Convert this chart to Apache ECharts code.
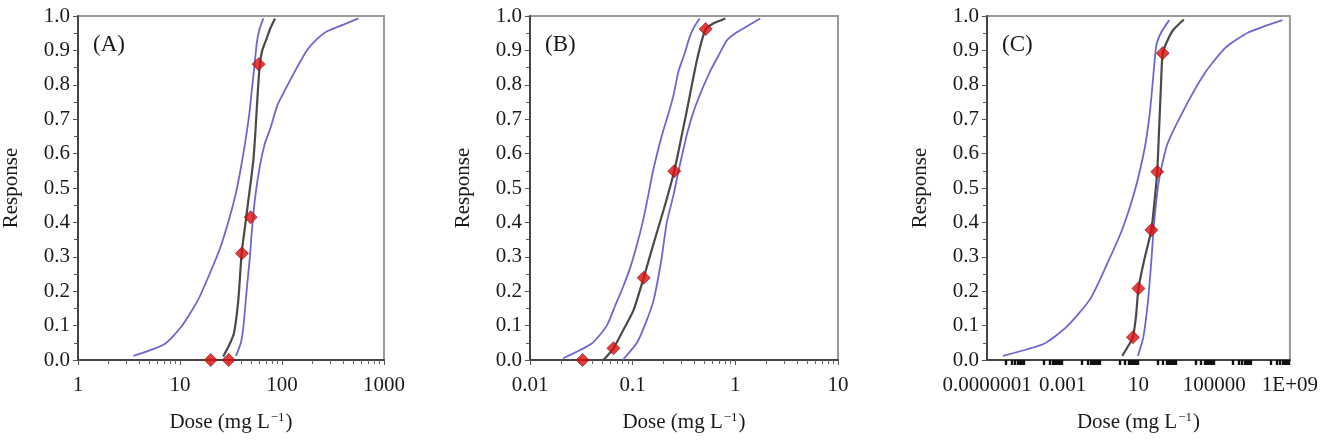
<!DOCTYPE html>
<html>
<head>
<meta charset="utf-8">
<script src="https://cdn.jsdelivr.net/npm/echarts@6/dist/echarts.min.js"></script>
<style>
  html, body { margin: 0; padding: 0; background: #fff; }
  #chart { width: 1321px; height: 442px; }
</style>
</head>
<body>
<div id="chart"></div>
<script>
// panel A (dose 1..1000)
const aObsDose = [20, 30, 40.5, 49.3, 59];
const aObsResp = [0, 0, 0.31, 0.415, 0.86];
const aFit = [[26.5,0.01],[30,0.04],[33.8,0.078],[37.3,0.174],[40.2,0.31],[43.5,0.39],[46.8,0.465],[49.5,0.52],[52.4,0.581],[54.5,0.65],[56.5,0.727],[58.5,0.8],[60.8,0.862],[64,0.9],[70.8,0.935],[77,0.965],[85.4,0.993]];
const aLow = [[3.5,0.012],[7,0.046],[10.2,0.095],[15,0.174],[19.5,0.25],[24.7,0.325],[30,0.405],[35,0.48],[38.5,0.54],[41.8,0.6],[45,0.66],[48,0.72],[50.4,0.78],[53.5,0.85],[56.5,0.92],[60,0.96],[65.6,0.993]];
const aHigh = [[35.4,0.012],[39.5,0.05],[41.8,0.096],[45.7,0.223],[48.5,0.3],[50.4,0.368],[54.4,0.47],[60.8,0.565],[68,0.63],[76.3,0.67],[90,0.74],[111,0.794],[140,0.85],[175,0.9],[215,0.93],[274,0.955],[400,0.975],[560,0.993]];
const aTicks = [1, 10, 100, 1000];

// panel B (dose 0.01..10)
const bObsDose = [0.0325, 0.065, 0.128, 0.254, 0.514];
const bObsResp = [0, 0.034, 0.239, 0.549, 0.962];
const bFit = [[0.052,0],[0.065,0.034],[0.081,0.087],[0.102,0.145],[0.128,0.239],[0.16,0.339],[0.2,0.436],[0.254,0.549],[0.29,0.63],[0.338,0.727],[0.423,0.872],[0.514,0.962],[0.615,0.979],[0.8,0.993]];
const bLow = [[0.021,0.005],[0.04,0.048],[0.056,0.1],[0.068,0.16],[0.08,0.21],[0.095,0.27],[0.11,0.335],[0.125,0.4],[0.14,0.47],[0.158,0.55],[0.18,0.62],[0.2,0.67],[0.225,0.72],[0.25,0.77],[0.28,0.84],[0.32,0.89],[0.36,0.94],[0.4,0.97],[0.45,0.993]];
const bHigh = [[0.08,0],[0.11,0.05],[0.135,0.11],[0.16,0.174],[0.19,0.29],[0.215,0.4],[0.25,0.48],[0.28,0.55],[0.34,0.66],[0.4,0.73],[0.48,0.79],[0.57,0.84],[0.7,0.89],[0.83,0.93],[1.0,0.95],[1.3,0.97],[1.75,0.993]];
const bTicks = [0.01, 0.1, 1, 10];

// panel C (dose 1e-7..1e9)
const cObsDose = [5.1, 10, 48, 98, 190];
const cObsResp = [0.066, 0.208, 0.378, 0.547, 0.892];
const cFit = [[1.4,0.012],[3.2,0.045],[5.1,0.066],[7.5,0.13],[10,0.208],[20,0.29],[48,0.378],[70,0.46],[98,0.547],[125,0.68],[155,0.8],[190,0.892],[350,0.93],[700,0.96],[2500,0.99]];
const cLow = [[7e-7,0.012],[1.1e-4,0.048],[1.8e-3,0.099],[0.028,0.177],[0.2,0.274],[1.4,0.38],[7,0.5],[22,0.62],[40,0.72],[59,0.817],[87,0.913],[158,0.952],[420,0.988]];
const cHigh = [[9.3,0.012],[18,0.066],[32,0.172],[48,0.289],[71,0.415],[129,0.531],[340,0.628],[3600,0.744],[3.8e4,0.84],[4e5,0.908],[6.3e6,0.952],[4e8,0.988]];
const cTicks = [1e-7, 1e-3, 10, 1e5, 1e9];

const FONT = '"Liberation Serif", "Times New Roman", serif';
const panels = [
  { label: '(A)', left: 78, width: 306, ticks: aTicks, minorDecades: [0, 1, 2], fit: aFit, low: aLow, high: aHigh, dose: aObsDose, resp: aObsResp },
  { label: '(B)', left: 530, width: 308, ticks: bTicks, minorDecades: [-2, -1, 0], fit: bFit, low: bLow, high: bHigh, dose: bObsDose, resp: bObsResp },
  { label: '(C)', left: 987, width: 312, ticks: cTicks, minorDecades: [-6, -4, -2, 0, 2, 4, 6, 8], fit: cFit, low: cLow, high: cHigh, dose: cObsDose, resp: cObsResp }
];

// 1, 0.001, 1E+09 style labels
function doseLabel(v) {
  const e = Math.round(Math.log10(v));
  if (e < 0) return '0.' + '0'.repeat(-e - 1) + '1';
  if (e >= 9) return '1E+' + (e < 10 ? '0' + e : e);
  return String(Math.pow(10, e));
}

// minor tick positions 2..9 (or 1..9) times each decade
function minorTicks(decades, withOne) {
  const out = [];
  decades.forEach(function (d) {
    for (let m = withOne ? 1 : 2; m <= 9; m++) out.push(m * Math.pow(10, d));
  });
  return out;
}

const option = {
  backgroundColor: '#fff',
  animation: false,
  textStyle: { fontFamily: FONT },
  title: [],
  grid: [],
  xAxis: [],
  yAxis: [],
  series: []
};

panels.forEach(function (p, i) {
  const lo = p.ticks[0], hi = p.ticks[p.ticks.length - 1];
  option.title.push({
    text: p.label, left: p.left + 15, top: 33, padding: 0,
    textStyle: { fontFamily: FONT, fontSize: 23, fontWeight: 'normal', color: '#1a1a1a' }
  });
  option.grid.push({
    left: p.left, width: p.width, top: 16, bottom: 82,
    show: true, borderColor: '#9a9a9a', borderWidth: 2
  });
  option.xAxis.push({
    type: 'log', gridIndex: i, min: lo, max: hi, logBase: 10,
    name: '{t|Dose (mg L}{s|−1}{t|)}',
    nameLocation: 'middle', nameGap: 51,
    nameTextStyle: {
      rich: {
        t: { fontFamily: FONT, fontSize: 21, color: '#1a1a1a' },
        s: { fontFamily: FONT, fontSize: 13, color: '#1a1a1a', verticalAlign: 'top', padding: [0, 1, 10, 1] }
      }
    },
    axisLine: { show: true, onZero: false, lineStyle: { color: '#444', width: 2 } },
    axisTick: { show: i < 2, length: 5, lineStyle: { color: '#555' }, customValues: p.ticks },
    axisLabel: { customValues: p.ticks, margin: 15, fontSize: 21, color: '#1a1a1a', formatter: doseLabel },
    splitLine: { show: false }
  });
  option.yAxis.push({
    type: 'value', gridIndex: i, min: 0, max: 1, interval: 0.1,
    name: 'Response', nameLocation: 'middle', nameGap: 56,
    nameTextStyle: { fontFamily: FONT, fontSize: 21, color: '#1a1a1a' },
    axisLine: { show: true, lineStyle: { color: '#444', width: 2 } },
    axisTick: { show: true, length: 5, lineStyle: { color: '#555' } },
    minorTick: { show: true, splitNumber: 2, length: 4, lineStyle: { color: '#555' } },
    axisLabel: { margin: 8, fontSize: 21, color: '#1a1a1a', formatter: function (v) { return v.toFixed(1); } },
    splitLine: { show: false }
  });
  const common = { xAxisIndex: i, yAxisIndex: i, showSymbol: false, symbol: 'none', smooth: 0.2, silent: true };
  option.series.push(Object.assign({ type: 'line', data: p.low, lineStyle: { color: '#6c68cf', width: 1.8 }, z: 2 }, common));
  option.series.push(Object.assign({ type: 'line', data: p.high, lineStyle: { color: '#6c68cf', width: 1.8 }, z: 2 }, common));
  option.series.push(Object.assign({ type: 'line', data: p.fit, lineStyle: { color: '#4a4a4a', width: 2.2 }, z: 3 }, common));
  option.series.push({
    type: 'scatter', xAxisIndex: i, yAxisIndex: i, z: 4, symbol: 'diamond', symbolSize: 13,
    itemStyle: { color: '#dd0c0c', borderColor: '#7a1010', borderWidth: 0.8 },
    data: p.dose.map(function (d, k) { return [d, p.resp[k]]; })
  });
});

// extra axes that only draw the small log ticks under each panel
panels.forEach(function (p, i) {
  const lo = p.ticks[0], hi = p.ticks[p.ticks.length - 1];
  option.xAxis.push({
    type: 'log', gridIndex: i, min: lo, max: hi, logBase: 10, position: 'bottom',
    axisLine: { show: false },
    axisLabel: { show: false },
    axisTick: { show: true, length: i < 2 ? 4 : 5, lineStyle: { color: i < 2 ? '#666' : '#111', width: i < 2 ? 1 : 2.4 }, customValues: minorTicks(p.minorDecades, i === 2) },
    splitLine: { show: false }
  });
});

const chart = echarts.init(document.getElementById('chart'), null, { renderer: 'canvas' });
chart.setOption(option);
</script>
</body>
</html>
